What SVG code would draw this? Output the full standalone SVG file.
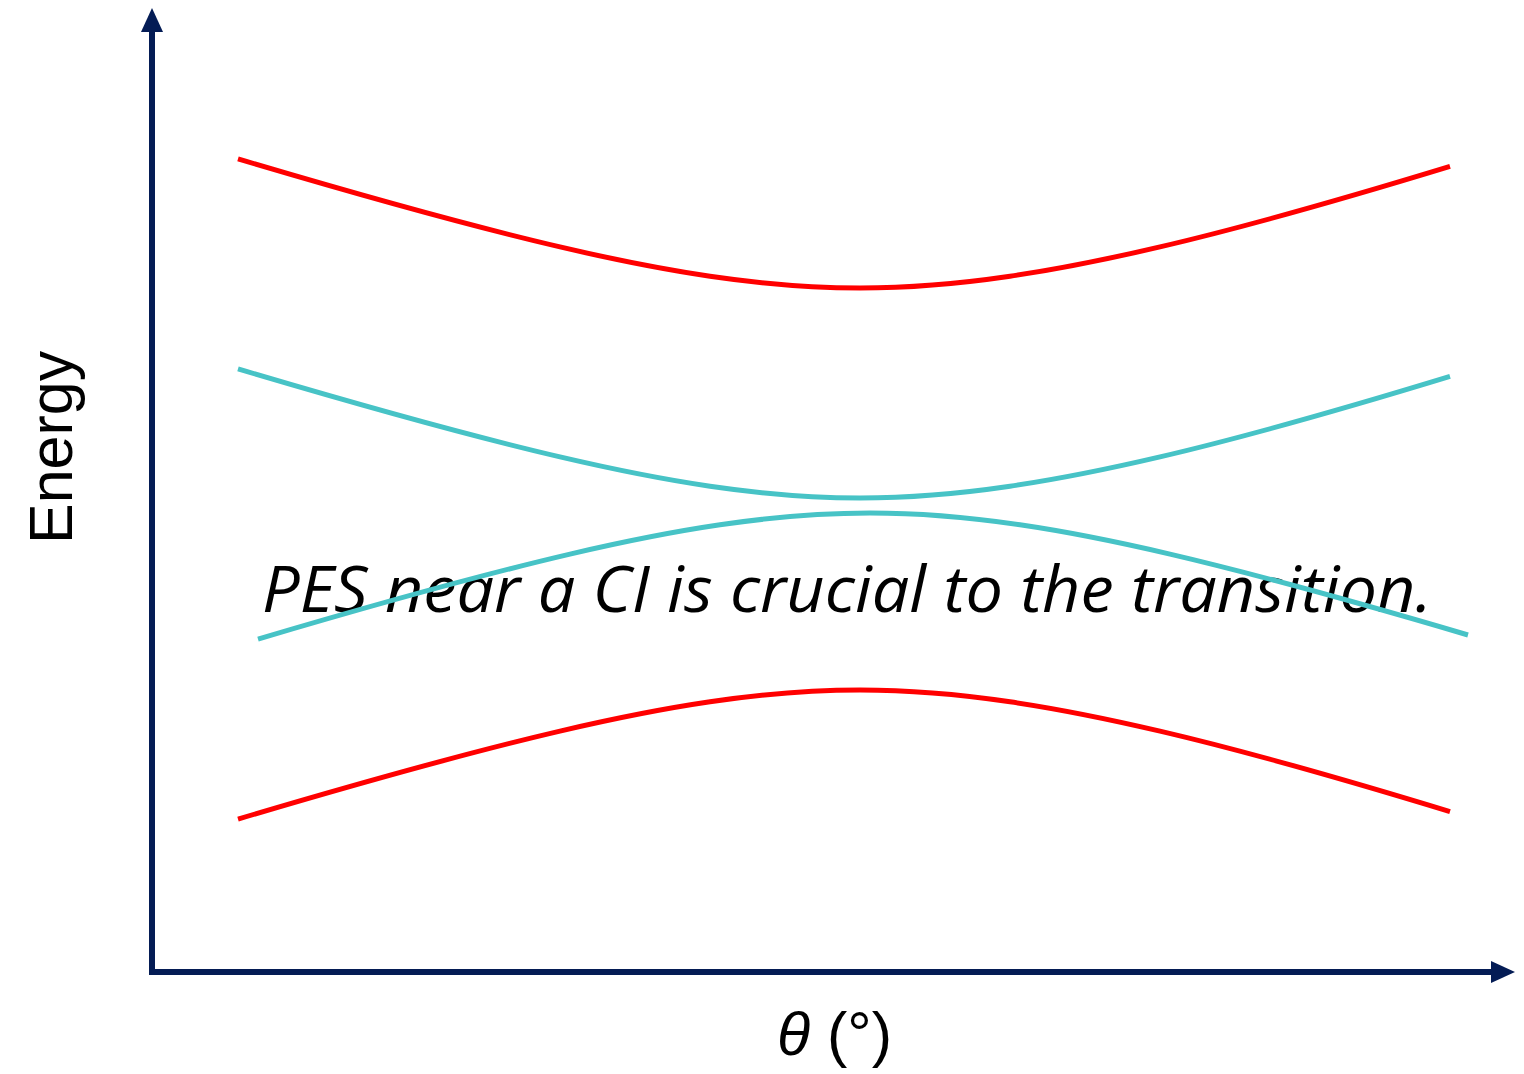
<svg xmlns="http://www.w3.org/2000/svg" width="1524" height="1074" viewBox="0 0 1524 1074">
<style>
.axis{stroke:#041c55;stroke-width:6;fill:none}
.head{fill:#041c55}
.red{stroke:#ff0000;stroke-width:5;fill:none}
.cyan{stroke:#47c3c6;stroke-width:5;fill:none}
.lbl{font-family:"Liberation Sans",Arial,sans-serif;font-size:61px;fill:#000}
.note{font-family:"Open Sans","Noto Sans",sans-serif;font-style:italic;font-size:64px;fill:#000}
</style>
<defs>
<path id="curveTop" d="M238,158.9 C345.3,190.8 452.7,221.8 560,246.9 C660,270.3 760,288 860,288 C960,288 1060,270.3 1160,246.9 C1256.7,224.3 1353.3,195.9 1450,166.4"/>
</defs>
<rect width="1524" height="1074" fill="#fff"/>
<g id="note">
<text class="note" x="262" y="612" textLength="1170" lengthAdjust="spacingAndGlyphs">PES near a CI is crucial to the transition.</text>
</g>
<g id="curves">
<use href="#curveTop" class="red" id="red-upper"/>
<use href="#curveTop" class="cyan" transform="translate(0,210)" id="cyan-upper"/>
<path class="cyan" id="cyan-lower" d="M258,639.1 C362,608.3 466,578.4 570,554.1 C670,530.7 770,513 870,513 C970,513 1070,530.7 1170,554.1 C1269.3,577.3 1368.7,605.7 1468,635"/>
<use href="#curveTop" class="red" transform="matrix(1,0,0,-1,0,978)" id="red-lower"/>
</g>
<g id="axes">
<path class="axis" d="M152,972 V30 M149,972 H1493"/>
<polygon class="head" points="152,8 163,32 141,32"/>
<polygon class="head" points="1515,972 1491,961 1491,983"/>
</g>
<g id="y-label">
<text class="lbl" transform="translate(72,544) rotate(-90)">Energy</text>
</g>
<g id="x-label">
<text class="lbl" x="777" y="1055"><tspan font-style="italic">θ</tspan> (°)</text>
</g>
</svg>
